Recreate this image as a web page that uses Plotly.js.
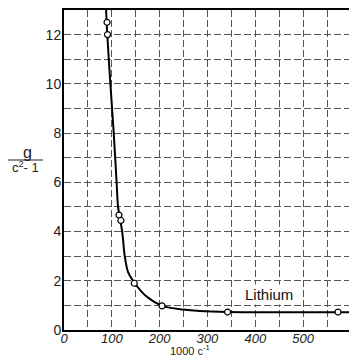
<!DOCTYPE html>
<html>
<head>
<meta charset="utf-8">
<script src="https://cdn.plot.ly/plotly-3.0.1.min.js"></script>
<style>
html,body{margin:0;padding:0;background:#fff;}
#chart{width:349px;height:356px;}
</style>
</head>
<body>
<div id="chart"></div>
<script>
// Measured points (open circles)
const pointX = [90, 91, 115, 119, 147, 205, 342, 573];
const pointY = [12.5, 12.0, 4.67, 4.45, 1.9, 0.98, 0.73, 0.73];

// Drawn smooth curve
const curveX = [88, 90.5, 97, 104, 110, 113, 117, 122, 127, 134, 148, 172, 207, 249, 284, 342, 450, 573, 600];
const curveY = [13.0, 12.0, 10.0, 8.0, 6.0, 5.0, 4.55, 3.95, 3.0, 2.35, 1.9, 1.37, 0.97, 0.83, 0.77, 0.73, 0.72, 0.72, 0.72];

const xTicks = [0, 100, 200, 300, 400, 500];
const yTicks = [0, 2, 4, 6, 8, 10, 12];
const seriesLabel = "Lithium";

const fam = "Liberation Sans, Arial, sans-serif";
const gridColor = "#555";
const dash = "7px,3px";

const data = [
  {x: curveX, y: curveY, mode: "lines", line: {color: "#000", width: 2, shape: "spline", smoothing: 0.8},
   hoverinfo: "skip", showlegend: false},
  {x: pointX, y: pointY, mode: "markers",
   marker: {symbol: "circle", size: 6, color: "#fff", line: {color: "#000", width: 1.2}},
   showlegend: false}
];

const plotW = 349 - 64, plotH = 356 - 10 - 26;
function px2paperX(px){ return (px - 64) / plotW; }
function px2paperY(py){ return (356 - 26 - py) / plotH; }

const layout = {
  width: 349, height: 356,
  margin: {l: 64, r: 0, t: 10, b: 26},
  paper_bgcolor: "#fff", plot_bgcolor: "#fff",
  font: {family: fam, size: 13, color: "#222"},
  showlegend: false,
  xaxis: {
    range: [0, 596], tickvals: xTicks, ticktext: xTicks.map(String),
    showgrid: true, gridcolor: gridColor, gridwidth: 1, griddash: dash,
    minor: {dtick: 50, tick0: 0, showgrid: true, gridcolor: gridColor, gridwidth: 1, griddash: dash},
    zeroline: false, showline: true, linecolor: "#000", linewidth: 2, mirror: true,
    ticks: "", ticklabelstandoff: -5,
    tickfont: {family: fam, size: 13, color: "#222", style: "italic"},
    fixedrange: true
  },
  yaxis: {
    range: [0, 13], tickvals: yTicks, ticktext: yTicks.map(String),
    showgrid: true, gridcolor: gridColor, gridwidth: 1, griddash: dash,
    minor: {dtick: 1, tick0: 0, showgrid: true, gridcolor: gridColor, gridwidth: 1, griddash: dash},
    zeroline: false, showline: true, linecolor: "#000", linewidth: 2, mirror: true,
    ticks: "", ticklabelstandoff: -2,
    tickfont: {family: fam, size: 14, color: "#222"},
    fixedrange: true
  },
  annotations: [
    {text: seriesLabel, x: 428, y: 1.44, xref: "x", yref: "y", showarrow: false,
     font: {family: fam, size: 15, color: "#111"}, bgcolor: "#fff", borderpad: 1},
    {text: "1000 c<sup>-1</sup>", x: px2paperX(190), y: px2paperY(350), xref: "paper", yref: "paper",
     xanchor: "center", yanchor: "middle", showarrow: false, borderpad: 0,
     font: {family: fam, size: 11, color: "#222"}},
    {text: "g", x: px2paperX(27), y: px2paperY(152), xref: "paper", yref: "paper",
     xanchor: "center", yanchor: "middle", showarrow: false,
     font: {family: fam, size: 16, color: "#222"}},
    {text: "c<sup>2</sup>- 1", x: px2paperX(25), y: px2paperY(167), xref: "paper", yref: "paper",
     xanchor: "center", yanchor: "middle", showarrow: false,
     font: {family: fam, size: 13, color: "#222"}}
  ],
  shapes: [
    {type: "line", xref: "paper", yref: "paper",
     x0: px2paperX(8), x1: px2paperX(43), y0: px2paperY(160), y1: px2paperY(160),
     line: {color: "#222", width: 1.2}}
  ]
};

Plotly.newPlot("chart", data, layout, {displayModeBar: false, staticPlot: true});
</script>
</body>
</html>
